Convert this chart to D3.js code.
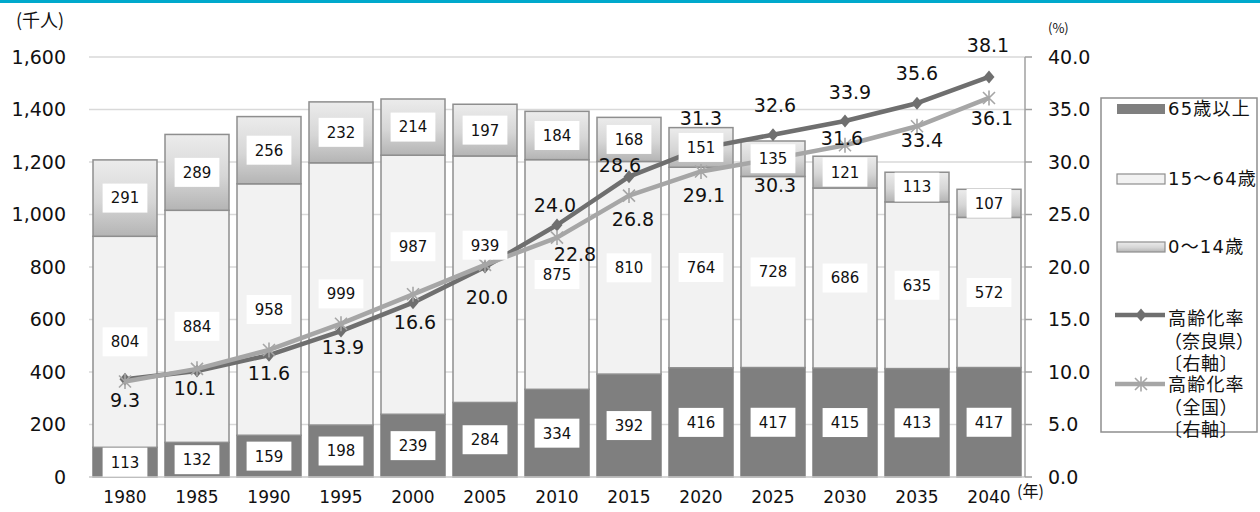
<!DOCTYPE html>
<html lang="ja">
<head>
<meta charset="utf-8">
<script src="https://cdn.jsdelivr.net/npm/d3@7"></script>
<style>
  html, body { margin: 0; padding: 0; background: #fff; }
  svg { display: block; }
  text { font-family: "DejaVu Sans", "Noto Sans CJK JP", sans-serif; }
  .jp { font-family: "Noto Sans CJK JP", "DejaVu Sans", sans-serif; }
</style>
</head>
<body>
<svg id="chart" width="1260" height="512"></svg>
<script>
// 年齢3区分別人口（千人）と高齢化率（%）
const years   = ["1980","1985","1990","1995","2000","2005","2010","2015","2020","2025","2030","2035","2040"];
const age65   = [113, 132, 159, 198, 239, 284, 334, 392, 416, 417, 415, 413, 417];
const age1564 = [804, 884, 958, 999, 987, 939, 875, 810, 764, 728, 686, 635, 572];
const age014  = [291, 289, 256, 232, 214, 197, 184, 168, 151, 135, 121, 113, 107];
const rateNara  = [9.3, 10.1, 11.6, 13.9, 16.6, 20.0, 24.0, 28.6, 31.3, 32.6, 33.9, 35.6, 38.1];
const rateJapan = [9.1, 10.3, 12.1, 14.6, 17.4, 20.2, 22.8, 26.8, 29.1, 30.3, 31.6, 33.4, 36.1];
const japanLabelled = [false, false, false, false, false, false, true, true, true, true, true, true, true];
const leftTicks  = [0, 200, 400, 600, 800, 1000, 1200, 1400, 1600];
const rightTicks = [0, 5, 10, 15, 20, 25, 30, 35, 40];

// label placement (pixel offsets from each point / segment centre)
const naraLabelOffset = [[0,21],[-2,17],[0,18],[2,16],[2,19],[2,30],[-2,-20],[-9,-12],[0,-30],[2,-30],[5,-29],[0,-30],[-1,-32]];
const japanLabelOffset = [[0,0],[0,0],[0,0],[0,0],[0,0],[0,0],[18,17],[4,24],[3,24],[2,26],[-3,-7],[5,14],[3,20]];
const midLabelShift = [0,0,0,0,-38,-34,0,0,0,0,0,0,0];

const svg = d3.select("#chart");
const plotL = 89, plotR = 1025, plotT = 57, plotB = 477;

const x = d3.scaleBand().domain(years).range([plotL, plotR])
  .paddingInner(8 / 72).paddingOuter(4 / 72);
const yL = d3.scaleLinear().domain([0, 1600]).range([plotB, plotT]);
const yR = d3.scaleLinear().domain([0, 40]).range([plotB, plotT]);
const cx = d => x(d) + x.bandwidth() / 2;

// header rule
svg.append("rect").attr("x", 0).attr("y", 0).attr("width", 1260).attr("height", 3).attr("fill", "#00a9cc");

// gradient for the 0〜14 segment
const defs = svg.append("defs");
const grad = defs.append("linearGradient").attr("id", "young").attr("x1", 0).attr("y1", 0).attr("x2", 0).attr("y2", 1);
grad.append("stop").attr("offset", "0%").attr("stop-color", "#ececec");
grad.append("stop").attr("offset", "55%").attr("stop-color", "#d6d6d6");
grad.append("stop").attr("offset", "100%").attr("stop-color", "#b4b4b4");

// gridlines
svg.append("g").selectAll("line").data(leftTicks.slice(1)).join("line")
  .attr("x1", plotL).attr("x2", plotR)
  .attr("y1", d => yL(d)).attr("y2", d => yL(d))
  .attr("stroke", "#d9d9d9").attr("stroke-width", 1.5);

// left axis labels
svg.append("g").selectAll("text").data(leftTicks).join("text")
  .attr("x", 66).attr("y", d => yL(d)).attr("dy", "0.36em")
  .attr("text-anchor", "end").attr("font-size", 19).attr("fill", "#111")
  .text(d => d3.format(",")(d));

// stacked bars
const rows = years.map((yr, i) => ({ yr, i, a: age65[i], b: age1564[i], c: age014[i] }));
const stack = d3.stack().keys(["a", "b", "c"])(rows);
const fills = { a: "#7f7f7f", b: "#f2f2f2", c: "url(#young)" };
const strokes = { a: "#7f7f7f", b: "#8e8e8e", c: "#8e8e8e" };
stack.forEach(layer => {
  svg.append("g").selectAll("rect").data(layer).join("rect")
    .attr("x", d => x(d.data.yr))
    .attr("width", x.bandwidth())
    .attr("y", d => yL(d[1]))
    .attr("height", d => yL(d[0]) - yL(d[1]))
    .attr("fill", fills[layer.key])
    .attr("stroke", strokes[layer.key]).attr("stroke-width", 1.5);
});

// bottom axis line
svg.append("line").attr("x1", plotL).attr("x2", plotR).attr("y1", plotB).attr("y2", plotB)
  .attr("stroke", "#c8c8c8").attr("stroke-width", 1.5);

// right axis
const gR = svg.append("g");
gR.append("line").attr("x1", plotR).attr("x2", plotR).attr("y1", plotT).attr("y2", plotB)
  .attr("stroke", "#a0a0a0").attr("stroke-width", 1.5);
gR.selectAll("line.tk").data(rightTicks).join("line").attr("class", "tk")
  .attr("x1", plotR).attr("x2", plotR + 7)
  .attr("y1", d => yR(d)).attr("y2", d => yR(d))
  .attr("stroke", "#a0a0a0").attr("stroke-width", 1.5);
gR.selectAll("text").data(rightTicks).join("text")
  .attr("x", 1048).attr("y", d => yR(d)).attr("dy", "0.36em")
  .attr("font-size", 19).attr("fill", "#111")
  .text(d => d.toFixed(1));

// category labels
svg.append("g").selectAll("text").data(years).join("text")
  .attr("x", d => cx(d)).attr("y", 497).attr("dy", "0.36em")
  .attr("text-anchor", "middle").attr("font-size", 17).attr("fill", "#111")
  .text(d => d);

// rate lines
const line = d3.line().x(d => cx(d.yr)).y(d => yR(d.v));
const naraPts = years.map((yr, i) => ({ yr, v: rateNara[i], i }));
const japanPts = years.map((yr, i) => ({ yr, v: rateJapan[i], i }));

svg.append("path").datum(naraPts).attr("d", line)
  .attr("fill", "none").attr("stroke", "#6f6f6f").attr("stroke-width", 4.5).attr("stroke-linejoin", "round");
svg.append("g").selectAll("path").data(naraPts).join("path")
  .attr("transform", d => `translate(${cx(d.yr)},${yR(d.v)})`)
  .attr("d", "M0,-6.5L5.5,0L0,6.5L-5.5,0Z").attr("fill", "#6f6f6f");

svg.append("path").datum(japanPts).attr("d", line)
  .attr("fill", "none").attr("stroke", "#a6a6a6").attr("stroke-width", 4.5).attr("stroke-linejoin", "round");
svg.append("g").selectAll("path").data(japanPts).join("path")
  .attr("transform", d => `translate(${cx(d.yr)},${yR(d.v)})`)
  .attr("d", "M-6,-6L6,6M-6,6L6,-6M0,-7.5L0,7.5")
  .attr("fill", "none").attr("stroke", "#a6a6a6").attr("stroke-width", 1.6);

// segment value labels in white boxes
function boxLabel(g, px, py, txt) {
  const w = txt.length * 9.6 + 16, h = 29;
  g.append("rect").attr("x", px - w / 2).attr("y", py - h / 2).attr("width", w).attr("height", h).attr("fill", "#fff");
  g.append("text").attr("x", px).attr("y", py).attr("dy", "0.36em")
    .attr("text-anchor", "middle").attr("font-size", 15).attr("fill", "#111").text(txt);
}
const gLab = svg.append("g");
stack.forEach(layer => {
  layer.forEach(d => {
    const i = d.data.i;
    let py = (yL(d[0]) + yL(d[1])) / 2;
    if (layer.key === "b") py += midLabelShift[i];
    boxLabel(gLab, cx(d.data.yr), py, String(d[1] - d[0]));
  });
});

// rate labels
svg.append("g").selectAll("text").data(naraPts).join("text")
  .attr("x", d => cx(d.yr) + naraLabelOffset[d.i][0])
  .attr("y", d => yR(d.v) + naraLabelOffset[d.i][1]).attr("dy", "0.36em")
  .attr("text-anchor", "middle").attr("font-size", 19).attr("fill", "#111")
  .text(d => d.v.toFixed(1));
svg.append("g").selectAll("text").data(japanPts.filter(d => japanLabelled[d.i])).join("text")
  .attr("x", d => cx(d.yr) + japanLabelOffset[d.i][0])
  .attr("y", d => yR(d.v) + japanLabelOffset[d.i][1]).attr("dy", "0.36em")
  .attr("text-anchor", "middle").attr("font-size", 19).attr("fill", "#111")
  .text(d => d.v.toFixed(1));

// unit captions
svg.append("text").attr("class", "jp").attr("x", 16).attr("y", 21).attr("dy", "0.36em")
  .attr("font-size", 18).attr("fill", "#111").text("(千人)");
svg.append("text").attr("class", "jp").attr("x", 1048).attr("y", 28).attr("dy", "0.36em")
  .attr("font-size", 13).attr("fill", "#111").text("(%)");
svg.append("text").attr("class", "jp").attr("x", 1017).attr("y", 491).attr("dy", "0.36em")
  .attr("font-size", 16).attr("fill", "#111").text("(年)");

// legend
const lg = svg.append("g").attr("class", "jp");
lg.append("rect").attr("x", 1101).attr("y", 98).attr("width", 156).attr("height", 334)
  .attr("fill", "#fff").attr("stroke", "#8e8e8e").attr("stroke-width", 1.5);
const swX = 1117, swW = 48, txtX = 1168;
const legendText = (y, t, dx = 0, ls = 1.2) => lg.append("text").attr("x", txtX + dx).attr("y", y).attr("dy", "0.36em")
  .attr("font-size", 18).attr("letter-spacing", ls).attr("fill", "#111").text(t);
lg.append("rect").attr("x", swX).attr("y", 104).attr("width", swW).attr("height", 10).attr("fill", "#7f7f7f");
legendText(109, "65歳以上");
lg.append("rect").attr("x", swX).attr("y", 174).attr("width", swW).attr("height", 10)
  .attr("fill", "#f2f2f2").attr("stroke", "#8e8e8e").attr("stroke-width", 1.2);
legendText(179, "15～64歳");
lg.append("rect").attr("x", swX).attr("y", 242).attr("width", swW).attr("height", 10)
  .attr("fill", "url(#young)").attr("stroke", "#8e8e8e").attr("stroke-width", 1.2);
legendText(247, "0～14歳");
lg.append("line").attr("x1", swX - 2).attr("x2", swX + swW).attr("y1", 315).attr("y2", 315)
  .attr("stroke", "#6f6f6f").attr("stroke-width", 4.5);
lg.append("path").attr("transform", `translate(${swX + swW / 2},315)`)
  .attr("d", "M0,-6.5L5.5,0L0,6.5L-5.5,0Z").attr("fill", "#6f6f6f");
legendText(319, "高齢化率");
legendText(342, "（奈良県）", -4, 0);
legendText(364, "〔右軸〕", -4, 0.5);
lg.append("line").attr("x1", swX - 2).attr("x2", swX + swW).attr("y1", 384).attr("y2", 384)
  .attr("stroke", "#a6a6a6").attr("stroke-width", 4.5);
lg.append("path").attr("transform", `translate(${swX + swW / 2},384)`)
  .attr("d", "M-6,-6L6,6M-6,6L6,-6M0,-7.5L0,7.5")
  .attr("fill", "none").attr("stroke", "#a6a6a6").attr("stroke-width", 1.6);
legendText(385, "高齢化率");
legendText(408, "（全国）", -4, 0.5);
legendText(430, "〔右軸〕", -4, 0.5);
</script>
</body>
</html>
